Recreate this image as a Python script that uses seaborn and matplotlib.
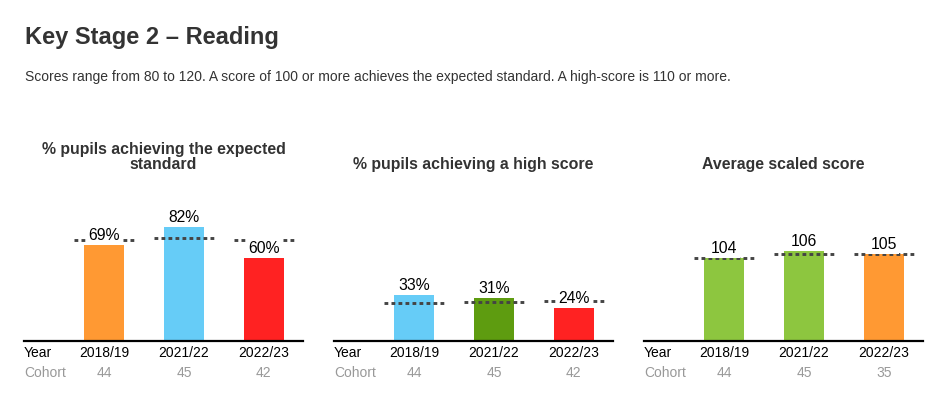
import matplotlib
matplotlib.use("Agg")
import matplotlib.pyplot as plt
import matplotlib.transforms as mtransforms
import seaborn as sns
import numpy as np
import pandas as pd

sns.set_style("white")
plt.rcParams['font.family'] = ['Liberation Sans', 'DejaVu Sans']

# ---------------- data ----------------
years = ["2018/19", "2021/22", "2022/23"]

exp_values = [69, 82, 60]
exp_national = [73, 74, 73]
exp_colors = ["#FF9933", "#66CCF7", "#FF2222"]
exp_cohort = [44, 45, 42]

high_values = [33, 31, 24]
high_national = [27, 28, 29]
high_colors = ["#66CCF7", "#5E9C10", "#FF2222"]
high_cohort = [44, 45, 42]

avg_values = [104, 106, 105]
avg_national = [104, 105, 105]
avg_colors = ["#8DC63F", "#8DC63F", "#FF9933"]
avg_cohort = [44, 45, 35]

titles = ["% pupils achieving the expected\nstandard",
          "% pupils achieving a high score",
          "Average scaled score"]
suffixes = ["%", "%", ""]
ylims = [(0, 100), (0, 100), (80, 120)]

panels = [
    (exp_values, exp_national, exp_colors, exp_cohort),
    (high_values, high_national, high_colors, high_cohort),
    (avg_values, avg_national, avg_colors, avg_cohort),
]

TXT = "#333333"
GREY = "#999999"

W, H = 943, 393
fig = plt.figure(figsize=(W / 100, H / 100), dpi=100)

fig.text(25 / W, 1 - 44 / H, "Key Stage 2 \u2013 Reading", fontsize=17,
         fontweight="bold", color=TXT, va="baseline", ha="left")
fig.text(25 / W, 1 - 81.5 / H,
         "Scores range from 80 to 120. A score of 100 or more achieves the expected standard. "
         "A high-score is 110 or more.",
         fontsize=10, color=TXT, va="baseline", ha="left")

lefts = [24, 334, 644]
ax_w = 279
ax_top, ax_bot = 202, 341

for k, (vals, nat, cols, coh) in enumerate(panels):
    ax = fig.add_axes([lefts[k] / W, 1 - ax_bot / H, ax_w / W, (ax_bot - ax_top) / H])
    df = pd.DataFrame({"year": years, "value": vals})
    pal = dict(zip(years, cols))
    sns.barplot(data=df, x="year", y="value", hue="year", palette=pal,
                legend=False, width=0.5, ax=ax, saturation=1, edgecolor="none")
    xs = np.arange(len(years))
    ax.set_ylim(*ylims[k])
    ax.set_xlim(-1, 2.49)
    # dotted national lines
    ax.hlines(nat, xs - 0.375, xs + 0.375, colors="#444444",
              linestyles=(0, (1.3, 1.1)), linewidth=2.1, zorder=3)
    # value labels
    for i, v in enumerate(vals):
        ax.annotate(f"{v}{suffixes[k]}", xy=(i, v), xytext=(0, 5),
                    textcoords="offset pixels", ha="center", va="baseline",
                    fontsize=11.3, color="black", zorder=5,
                    bbox=dict(boxstyle="square,pad=0.15", fc="white", ec="none"))
    # axes styling
    for s in ["top", "right", "left"]:
        ax.spines[s].set_visible(False)
    ax.spines["bottom"].set_color("black")
    ax.spines["bottom"].set_linewidth(1.6)
    ax.set_yticks([])
    ax.set_xticks([])
    ax.set_xlabel("")
    ax.set_ylabel("")
    # Year row & Cohort row
    trans = mtransforms.blended_transform_factory(ax.transData, ax.transAxes)
    ax.annotate("Year", xy=(0, 0), xycoords="axes fraction", xytext=(0, -12),
                textcoords="offset pixels", ha="left", va="center",
                fontsize=10, color="black", annotation_clip=False)
    ax.annotate("Cohort", xy=(0, 0), xycoords="axes fraction", xytext=(0, -32),
                textcoords="offset pixels", ha="left", va="center",
                fontsize=10, color=GREY, annotation_clip=False)
    for i, (yr, c) in enumerate(zip(years, coh)):
        ax.annotate(yr, xy=(i, 0), xycoords=trans, xytext=(0, -12),
                    textcoords="offset pixels", ha="center", va="center",
                    fontsize=10, color="black", annotation_clip=False)
        ax.annotate(str(c), xy=(i, 0), xycoords=trans, xytext=(0, -32),
                    textcoords="offset pixels", ha="center", va="center",
                    fontsize=10, color=GREY, annotation_clip=False)
    # panel title
    ax.annotate(titles[k], xy=(0.5, 1), xycoords="axes fraction", xytext=(0, 30),
                textcoords="offset pixels", ha="center", va="bottom",
                multialignment="center", linespacing=1.02,
                fontsize=11.4, fontweight="bold", color=TXT, annotation_clip=False)

fig.savefig("out.png", dpi=100, facecolor="white")
